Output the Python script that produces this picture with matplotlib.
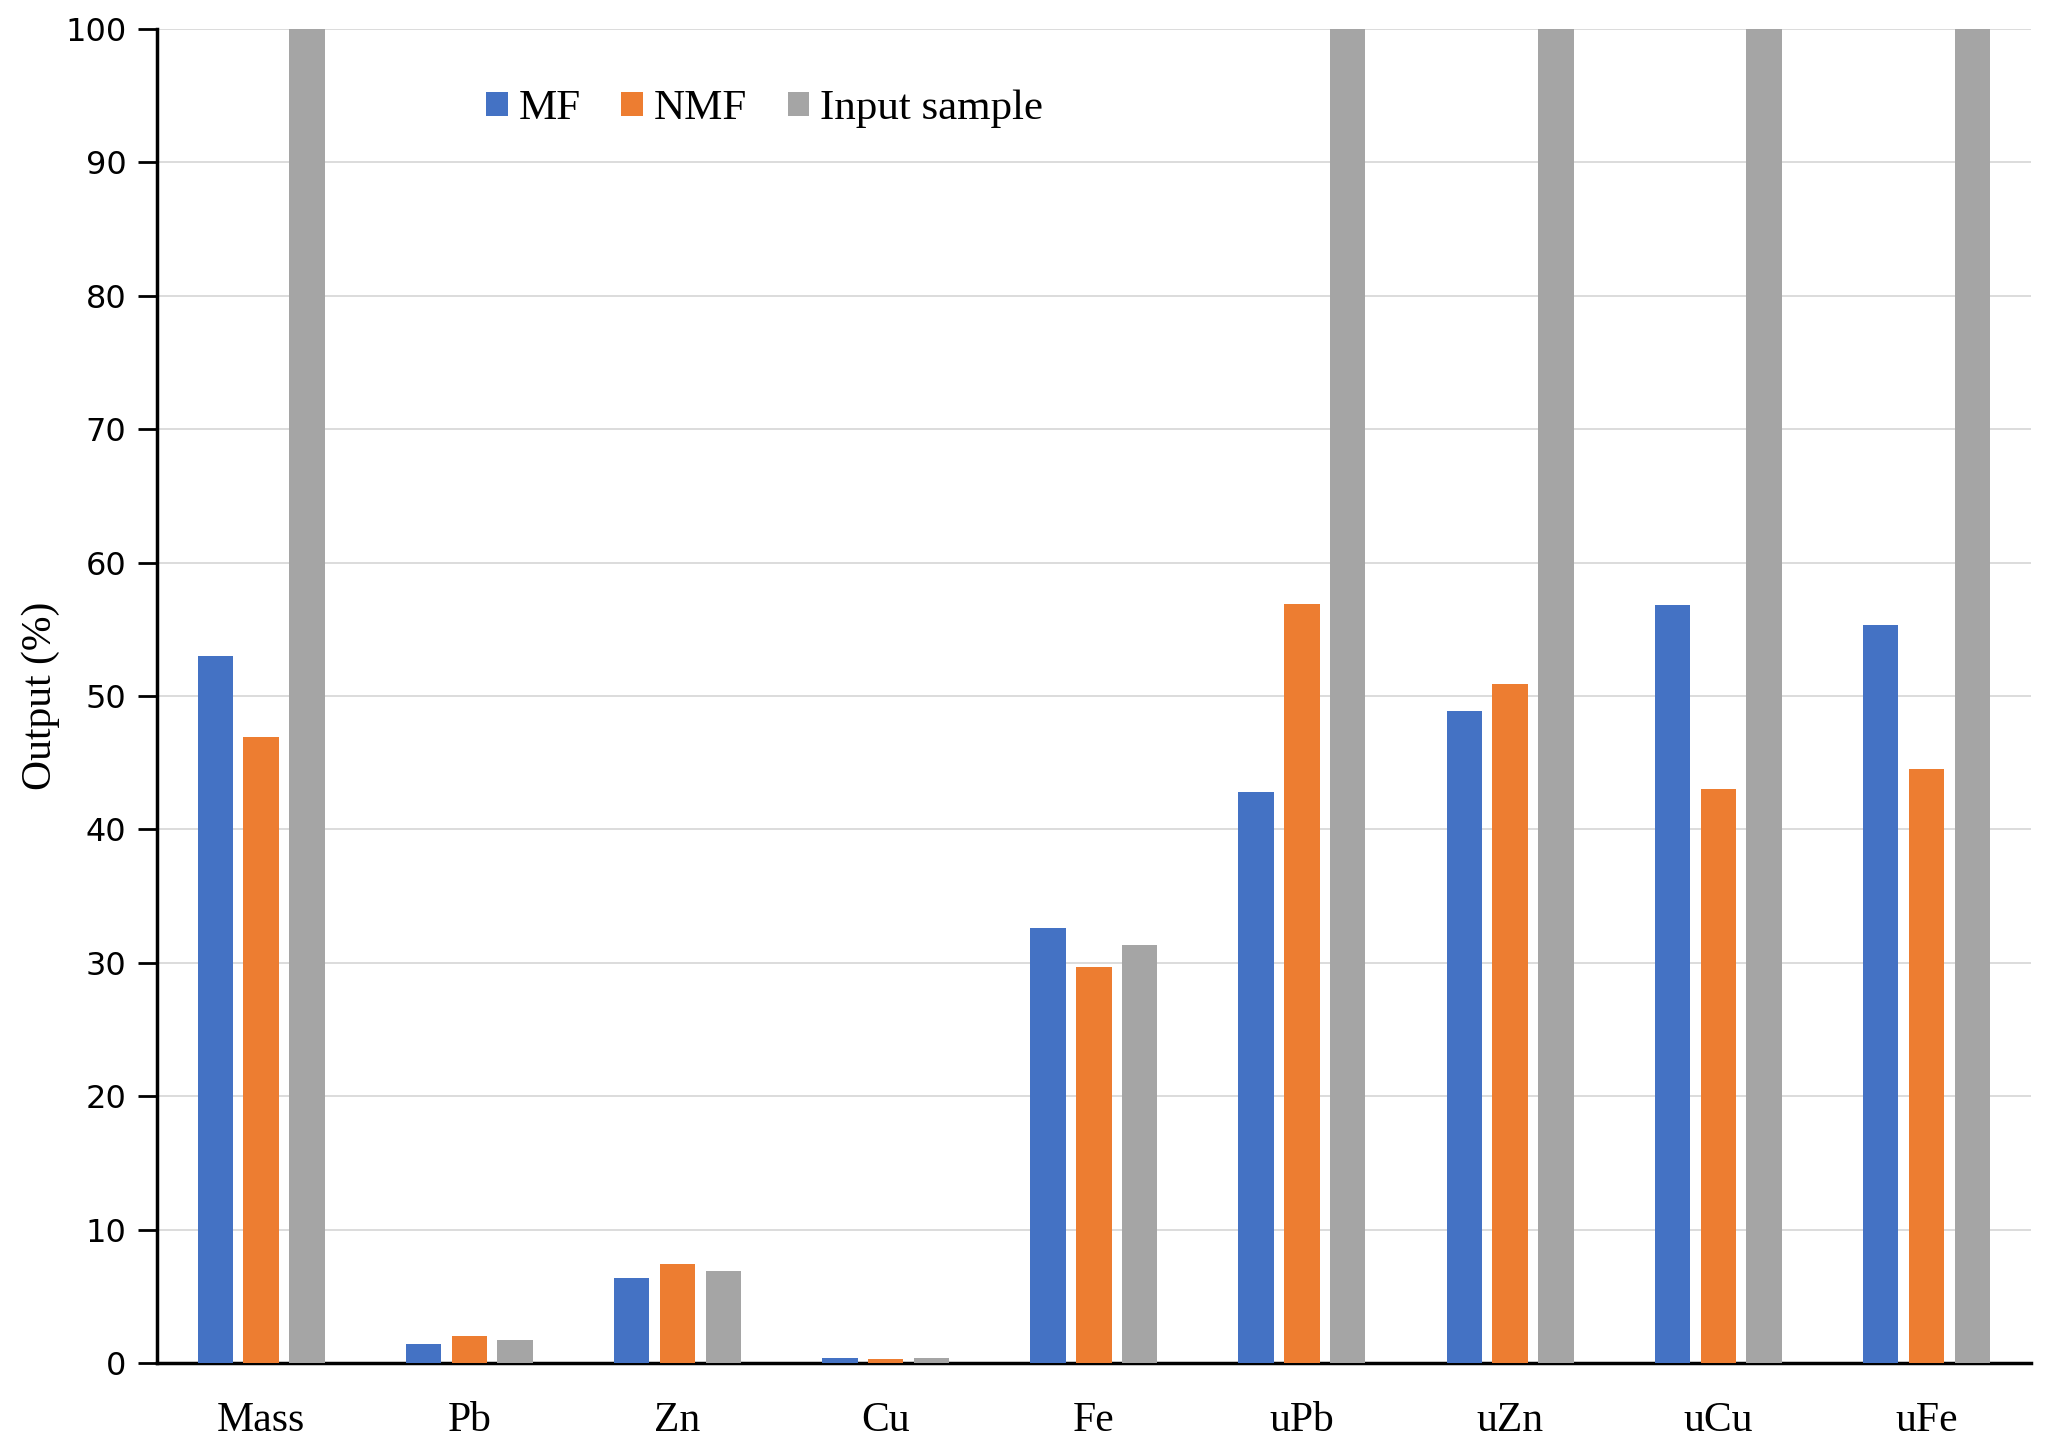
import numpy as np
import matplotlib.pyplot as plt

categories = ['Mass', 'Pb', 'Zn', 'Cu', 'Fe', 'uPb', 'uZn', 'uCu', 'uFe']
mf = [53.0, 1.4, 6.4, 0.4, 32.6, 42.8, 48.9, 56.8, 55.3]
nmf = [46.9, 2.0, 7.4, 0.3, 29.7, 56.9, 50.9, 43.0, 44.5]
input_sample = [100, 1.7, 6.9, 0.4, 31.3, 100, 100, 100, 100]

fig = plt.figure(figsize=(20.47, 14.5), dpi=100)
ax = fig.add_axes([0.0767, 0.06, 0.9153, 0.92])

x = np.arange(len(categories))
w = 0.17
off = 0.22
ax.bar(x - off, mf, w, color='#4472C4', label='MF', zorder=3)
ax.bar(x, nmf, w, color='#ED7D31', label='NMF', zorder=3)
ax.bar(x + off, input_sample, w, color='#A5A5A5', label='Input sample', zorder=3)

ax.set_xlim(-0.5, len(categories) - 0.5)
ax.set_ylim(0, 100)
ax.set_yticks(np.arange(0, 101, 10))
ax.yaxis.grid(True, color='#D9D9D9', linewidth=1.3, zorder=0)
ax.set_xticks(x)
ax.set_xticklabels(categories, family='Liberation Serif', fontsize=30)
ax.tick_params(axis='x', length=0, pad=28)
ax.tick_params(axis='y', length=14, width=2, labelsize=23, pad=8)
for lab in ax.get_yticklabels():
    lab.set_family('DejaVu Sans')

for s in ['top', 'right']:
    ax.spines[s].set_visible(False)
ax.spines['left'].set_linewidth(2.5)
ax.spines['bottom'].set_linewidth(2.5)

ax.set_ylabel('Output (%)', family='Liberation Serif', fontsize=30, labelpad=4)

ax.legend(loc='center left', bbox_to_anchor=(0.155, 0.94), ncol=3, frameon=False,
          prop={'family': 'Liberation Serif', 'size': 31},
          handlelength=0.5, handleheight=0.5, handletextpad=0.25, columnspacing=0.95)

plt.savefig('out.png', dpi=100)
plt.close()
